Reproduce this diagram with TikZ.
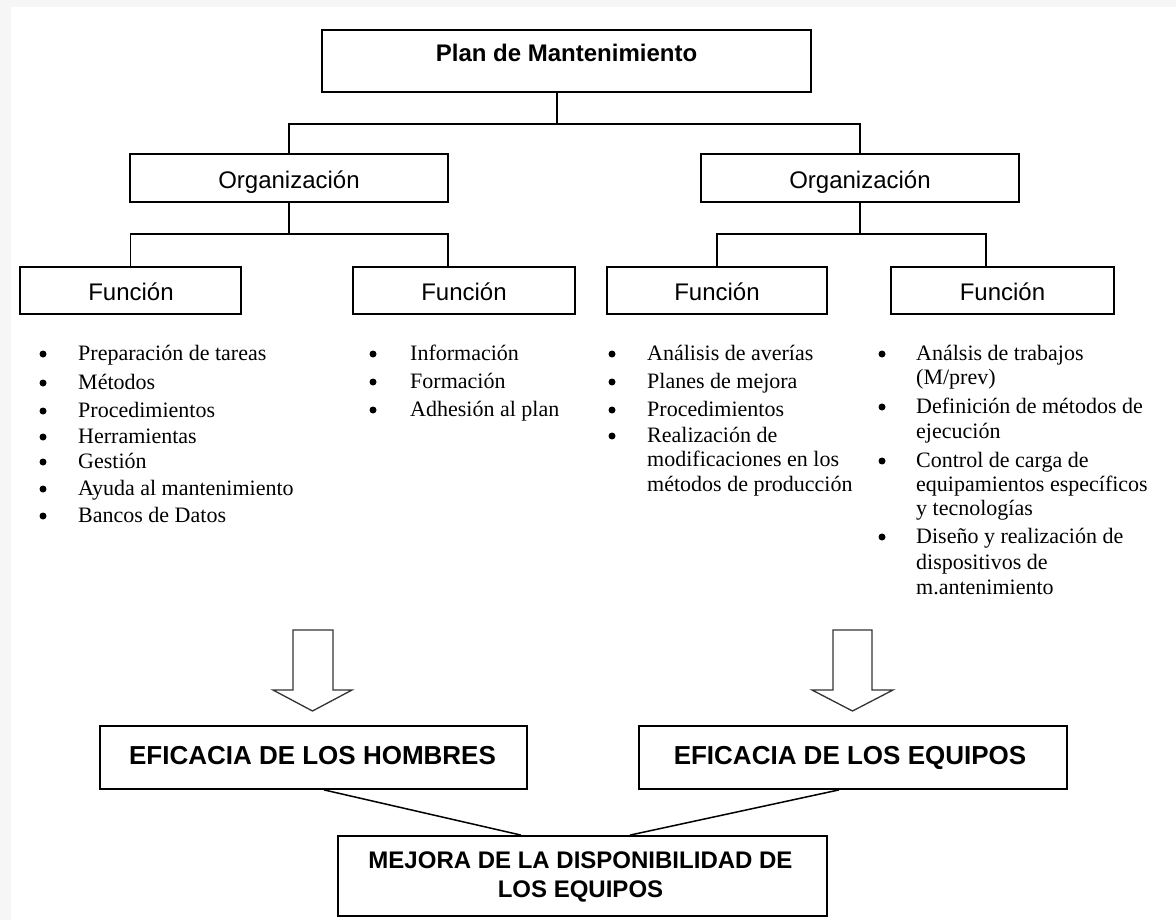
\documentclass[tikz,border=0pt]{standalone}
\usepackage{fontspec}
\setmainfont{Liberation Serif}
\newfontfamily\arialfont{Liberation Sans}
\usetikzlibrary{calc}

\tikzset{
  box/.style={draw, line width=1.8pt, rectangle, inner sep=0pt},
  lbl/.style={font=\arialfont\fontsize{24}{28}\selectfont, inner sep=0pt, anchor=base},
  boldlbl/.style={font=\arialfont\bfseries\fontsize{24}{28}\selectfont, inner sep=0pt, anchor=base},
  biglbl/.style={font=\arialfont\bfseries\fontsize{26}{30}\selectfont, inner sep=0pt, anchor=base},
  itm/.style={font=\fontsize{22}{24}\selectfont, inner sep=0pt, anchor=base west},
  dot/.style={circle, fill, inner sep=0pt, minimum size=7pt},
  wire/.style={line width=1.8pt},
  slant/.style={line width=1.5pt},
  hollow/.style={draw=black!80, line width=1.3pt, fill=white, line join=miter}
}

\begin{document}
\begin{tikzpicture}[x=1pt, y=-1pt]
  \useasboundingbox (0,0) rectangle (1176,920);
  % page with a soft grey margin at top and left
  \fill[gray!7] (0,0) rectangle (1176,920);
  \fill[white] (11,7) rectangle (1176,920);

  % top level
  \node[box, minimum width=489pt, minimum height=62pt] (plan) at (566.5,61) {};
  \node[boldlbl] (plantxt) at (566.5,62) {Plan de Mantenimiento};

  % organisation level
  \node[box, minimum width=318pt, minimum height=48pt] (org1) at (289,178) {};
  \node[box, minimum width=318pt, minimum height=48pt] (org2) at (860,178) {};
  \node[lbl] (org1txt) at (289,189) {Organización};
  \node[lbl] (org2txt) at (860,189) {Organización};

  % function level
  \node[box, minimum width=221pt, minimum height=47pt] (f1) at (130.5,290.5) {};
  \node[box, minimum width=222pt, minimum height=47pt] (f2) at (464,290.5) {};
  \node[box, minimum width=220pt, minimum height=47pt] (f3) at (717,290.5) {};
  \node[box, minimum width=223pt, minimum height=47pt] (f4) at (1002.5,290.5) {};
  \node[lbl] (f1txt) at (131,301) {Función};
  \node[lbl] (f2txt) at (464,301) {Función};
  \node[lbl] (f3txt) at (717,301) {Función};
  \node[lbl] (f4txt) at (1002.5,301) {Función};

  % tree connectors
  \coordinate (j0) at (557,124);
  \draw[wire] (plan.south -| j0) -- (j0);
  \draw[wire] (org1.north) |- (j0) -| (org2.north);
  \coordinate (j1) at (289,234);
  \coordinate (f2in) at ($(f2.north)+(-16,0)$);
  \draw[wire] (org1.south) -- (j1);
  \draw[wire] (f1.north) |- (j1) -| (f2in);
  \coordinate (j2) at (860,234);
  \coordinate (f4in) at ($(f4.north)+(-16.5,0)$);
  \draw[wire] (org2.south) -- (j2);
  \draw[wire] (f3.north) |- (j2) -| (f4in);

  % first list
  \node[dot] (d11) at (43,354) {};
  \node[dot] (d12) at (43,383) {};
  \node[dot] (d13) at (43,411) {};
  \node[dot] (d14) at (43,437) {};
  \node[dot] (d15) at (43,462) {};
  \node[dot] (d16) at (43,489) {};
  \node[dot] (d17) at (43,516) {};
  \node[itm] (t11) at (78,360) {Preparación de tareas};
  \node[itm] (t12) at (78,389) {Métodos};
  \node[itm] (t13) at (78,417) {Procedimientos};
  \node[itm] (t14) at (78,443) {Herramientas};
  \node[itm] (t15) at (78,468) {Gestión};
  \node[itm] (t16) at (78,495) {Ayuda al mantenimiento};
  \node[itm] (t17) at (78,522) {Bancos de Datos};

  % second list
  \node[dot] (d21) at (373,354) {};
  \node[dot] (d22) at (373,382) {};
  \node[dot] (d23) at (373,410) {};
  \node[itm] (t21) at (410,360) {Información};
  \node[itm] (t22) at (410,388) {Formación};
  \node[itm] (t23) at (410,416) {Adhesión al plan};

  % third list
  \node[dot] (d31) at (612,354) {};
  \node[dot] (d32) at (612,382) {};
  \node[dot] (d33) at (612,410) {};
  \node[dot] (d34) at (612,436) {};
  \node[itm] (t31) at (647,360) {Análisis de averías};
  \node[itm] (t32) at (647,388) {Planes de mejora};
  \node[itm] (t33) at (647,416) {Procedimientos};
  \node[itm] (t34) at (647,442) {Realización de};
  \node[itm] (t35) at (647,466) {modificaciones en los};
  \node[itm] (t36) at (647,491) {métodos de producción};

  % fourth list
  \node[dot] (d41) at (882,354) {};
  \node[dot] (d42) at (882,407) {};
  \node[dot] (d43) at (882,461) {};
  \node[dot] (d44) at (882,537) {};
  \node[itm] (t41) at (916,360) {Análsis de trabajos};
  \node[itm] (t42) at (916,384) {(M/prev)};
  \node[itm] (t43) at (916,413) {Definición de métodos de};
  \node[itm] (t44) at (916,438) {ejecución};
  \node[itm] (t45) at (916,467) {Control de carga de};
  \node[itm] (t46) at (916,491) {equipamientos específicos};
  \node[itm] (t47) at (916,515) {y tecnologías};
  \node[itm] (t48) at (916,543) {Diseño y realización de};
  \node[itm] (t49) at (916,569) {dispositivos de};
  \node[itm] (t410) at (916,594) {m.antenimiento};

  % hollow block arrows
  \draw[hollow] (293,630) -- (333,630) -- (333,690) -- (352,690) -- (312.5,711)
                -- (273,690) -- (293,690) -- cycle;
  \draw[hollow] (833,630) -- (872,630) -- (872,690) -- (893,690) -- (852.5,711)
                -- (812,690) -- (833,690) -- cycle;

  % results
  \node[box, minimum width=427pt, minimum height=63pt] (hom) at (313.5,757.5) {};
  \node[box, minimum width=428pt, minimum height=63pt] (equ) at (853,757.5) {};
  \node[box, minimum width=489pt, minimum height=80pt] (mej) at (582.5,876) {};
  \node[biglbl] (homtxt) at (312.5,764) {EFICACIA DE LOS HOMBRES};
  \node[biglbl] (equtxt) at (850,764) {EFICACIA DE LOS EQUIPOS};
  \node[boldlbl] (mejtxt1) at (580.5,868) {MEJORA DE LA DISPONIBILIDAD DE};
  \node[boldlbl] (mejtxt2) at (580.5,897) {LOS EQUIPOS};

  \draw[slant] ($(hom.south)+(10.5,0)$) -- ($(mej.north)+(-61.5,0)$);
  \draw[slant] ($(equ.south)+(-14,0)$) -- ($(mej.north)+(47.5,0)$);
\end{tikzpicture}
\end{document}
